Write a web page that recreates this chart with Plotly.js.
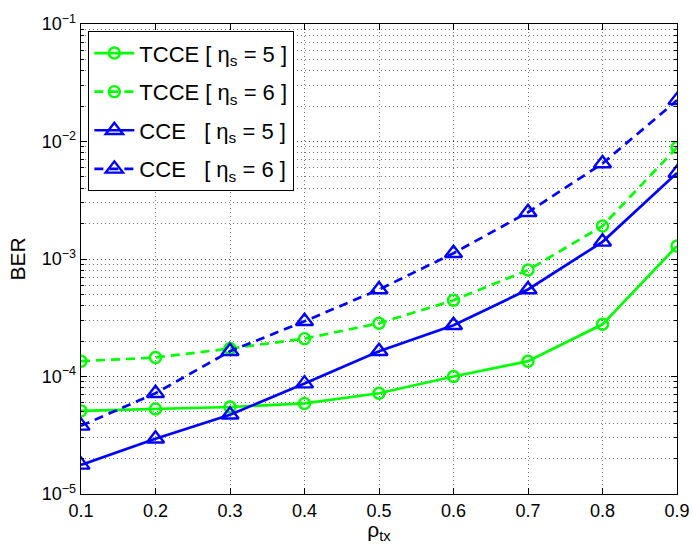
<!DOCTYPE html>
<html>
<head>
<meta charset="utf-8">
<script src="https://cdn.plot.ly/plotly-3.0.1.min.js"></script>
<style>
  html, body { margin: 0; padding: 0; background: #fff; }
  #plot { width: 693px; height: 544px; }
</style>
</head>
<body>
<div id="plot"></div>
<script>
// Transmit correlation coefficient
const rho = [0.1, 0.2, 0.3, 0.4, 0.5, 0.6, 0.7, 0.8, 0.9];

// Bit error rate for each estimator and sparsity level
const tcce5 = [5.1e-5, 5.3e-5, 5.5e-5, 5.9e-5, 7.2e-5, 1.0e-4, 1.35e-4, 2.78e-4, 1.29e-3];
const tcce6 = [1.35e-4, 1.45e-4, 1.73e-4, 2.1e-4, 2.84e-4, 4.45e-4, 8.05e-4, 1.91e-3, 8.9e-3];
const cce5  = [1.77e-5, 2.95e-5, 4.73e-5, 8.7e-5, 1.64e-4, 2.73e-4, 5.5e-4, 1.4e-3, 5.4e-3];
const cce6  = [3.8e-5, 7.2e-5, 1.64e-4, 2.95e-4, 5.5e-4, 1.12e-3, 2.5e-3, 6.5e-3, 2.24e-2];

const seriesNames = [
  'TCCE [ η<sub>s</sub> = 5 ]',
  'TCCE [ η<sub>s</sub> = 6 ]',
  'CCE &nbsp;&nbsp;[ η<sub>s</sub> = 5 ]',
  'CCE &nbsp;&nbsp;[ η<sub>s</sub> = 6 ]'
];

const yTickVals = [1e-5, 1e-4, 1e-3, 1e-2, 1e-1];
const yTickText = ['10<sup>−5</sup>', '10<sup>−4</sup>', '10<sup>−3</sup>', '10<sup>−2</sup>', '10<sup>−1</sup>'];
const xTickVals = [0.1, 0.2, 0.3, 0.4, 0.5, 0.6, 0.7, 0.8, 0.9];

const GREEN = '#00ff00';
const BLUE = '#0000ff';
const DASH = '9px,6px';

function trace(y, name, color, dash, symbol, size, group) {
  return {
    x: rho, y: y, name: name, type: 'scatter', mode: 'lines+markers',
    legendgroup: group,
    line: { color: color, width: 2.7, dash: dash },
    marker: { symbol: symbol, size: size, color: color, line: { color: color, width: 2.4 } }
  };
}

const data = [
  trace(tcce5, seriesNames[0], GREEN, 'solid', 'circle-open', 11, 'g1'),
  trace(tcce6, seriesNames[1], GREEN, DASH, 'circle-open', 11, 'g2'),
  trace(cce5, seriesNames[2], BLUE, 'solid', 'triangle-up-open', 15, 'g3'),
  trace(cce6, seriesNames[3], BLUE, DASH, 'triangle-up-open', 15, 'g4')
];

const GRID = 'rgba(0,0,0,0.55)';
const GRID_DASH = '1px,3px';

const layout = {
  width: 693, height: 544,
  margin: { l: 81, r: 16, t: 24, b: 50 },
  paper_bgcolor: '#fff', plot_bgcolor: '#fff',
  font: { family: 'Liberation Sans, Arial, sans-serif', size: 18, color: '#000' },
  showlegend: true,
  legend: {
    x: 0.012, y: 0.985, xanchor: 'left', yanchor: 'top',
    bordercolor: '#000', borderwidth: 1.2, bgcolor: '#fff',
    font: { size: 22 }, itemwidth: 40, traceorder: 'grouped', tracegroupgap: 7
  },
  xaxis: {
    range: [0.1, 0.9], tickvals: xTickVals, ticktext: xTickVals.map(v => v.toFixed(1)),
    ticks: 'inside', ticklen: 6, tickcolor: '#000', mirror: 'allticks',
    showline: true, linecolor: '#000', linewidth: 1.3,
    showgrid: true, gridcolor: GRID, griddash: GRID_DASH, gridwidth: 1,
    zeroline: false,
    title: { text: 'ρ<sub>tx</sub>', standoff: 4, font: { size: 21 } }
  },
  yaxis: {
    type: 'log', range: [-5, -1], tickvals: yTickVals, ticktext: yTickText,
    ticks: 'inside', ticklen: 6, tickcolor: '#000', mirror: 'allticks',
    showline: true, linecolor: '#000', linewidth: 1.3,
    showgrid: true, gridcolor: GRID, griddash: GRID_DASH, gridwidth: 1,
    zeroline: false,
    minor: {
      dtick: 'D1',
      ticks: 'inside', ticklen: 3, tickcolor: '#000',
      showgrid: true, gridcolor: GRID, griddash: GRID_DASH, gridwidth: 1
    },
    title: { text: 'BER', standoff: 10, font: { size: 21 } }
  }
};

Plotly.newPlot('plot', data, layout, { displayModeBar: false, staticPlot: true });
</script>
</body>
</html>
